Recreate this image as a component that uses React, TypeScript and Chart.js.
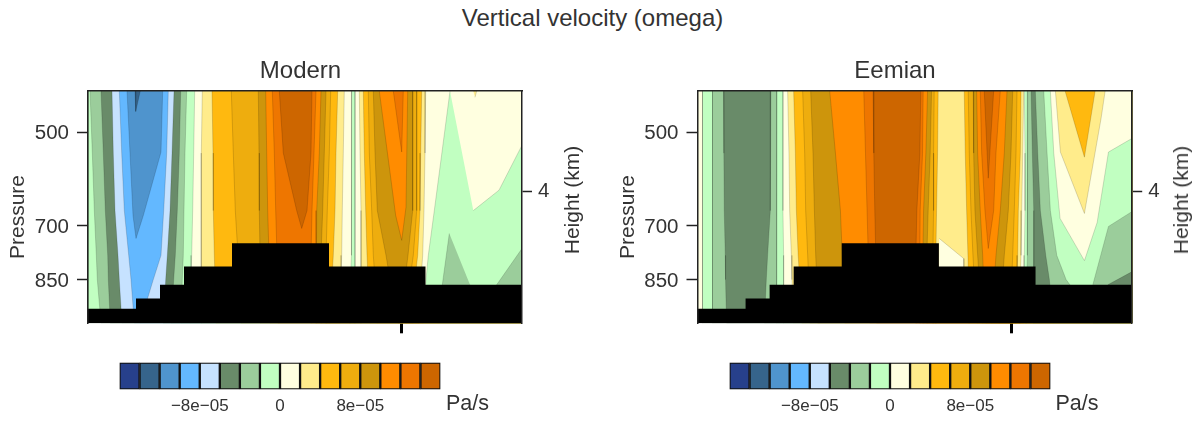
import React, { useEffect, useRef } from "react";
import { Chart, registerables } from "chart.js";

Chart.register(...registerables);

const FONT = "'Liberation Sans', Arial, sans-serif";
const INK = "#333333";

const suptitle = "Vertical velocity (omega)";
const panelTitles = ["Modern", "Eemian"];
const pressureTicks = [500, 700, 850];
const heightTickPressure = [618];
const heightTickLabels = ["4"];
const distanceTick = [313];
const distanceMax = 434;
const pressureTop = 431;
const pressureBottom = 995;

const colours = [
  "#27408B", "#36648B", "#4F94CD", "#63B8FF", "#C6E2FF", "#698B69", "#9BCD9B", "#C1FFC1",
  "#FFFFE0", "#FFEC8B", "#FFB90F", "#EEAD0E", "#CD950C", "#FF8C00", "#EE7600", "#CD6600",
];
const colourLevels = [
  -16e-5, -14e-5, -12e-5, -10e-5, -8e-5, -6e-5, -4e-5, -2e-5, 0,
  2e-5, 4e-5, 6e-5, 8e-5, 10e-5, 12e-5, 14e-5, 16e-5,
];
const colourTicks = [-8e-5, 0, 8e-5];
const colourTickLabels = ["\u22128e\u221205", "0", "8e\u221205"];

// each boundary: colour index to its right, then distance at each of these pressures
const boundaryPressures = [431, 539, 663, 779, 850, 995];

const modernBoundaries: number[][] = [
  [7, 0, 0, 0, 0, 0, 0],
  [6, 2, 4.3, 6.3, 8.3, 9.3, 13],
  [5, 13, 15.3, 17.3, 19.7, 20.3, 22.3],
  [4, 24, 25.3, 27, 30, 31.3, 34],
  [3, 31.3, 33.7, 36.3, 40.7, 43, 46.3],
  [4, 80.3, 78.7, 75.7, 73, 65.3, 52],
  [5, 86, 84, 82, 79.3, 77.7, 75.3],
  [6, 92.7, 91.3, 89.3, 87.3, 85.7, 83.3],
  [7, 98.7, 97, 96, 95.3, 94.3, 93],
  [8, 106.7, 105.7, 104.7, 103.7, 103, 102],
  [9, 114.3, 113.3, 113.3, 113.3, 113.3, 113],
  [10, 124, 125, 125.3, 126.3, 127, 128],
  [11, 143.3, 145.3, 147.3, 150, 151, 153],
  [12, 170.3, 171, 171.3, 172, 172, 172.5],
  [13, 177.7, 178.7, 179.7, 181, 181, 182],
  [14, 184.3, 186.3, 187.7, 189, 189, 190],
  [13, 228, 226, 224, 223, 223, 223],
  [12, 233, 231.3, 228.7, 228, 228, 228],
  [11, 238, 236.3, 234.7, 233, 233, 233],
  [10, 242.7, 241.3, 239.3, 238, 238, 238],
  [9, 249.7, 248, 247, 245.3, 244, 242],
  [8, 256.3, 255.3, 254.3, 253.7, 253, 252],
  [7, 263.7, 263.7, 263.7, 263, 262.5, 262],
  [8, 267, 267, 267, 267, 267, 267],
  [9, 271.3, 272, 273, 273, 273, 273],
  [10, 275.3, 276.3, 277.7, 279, 280, 282],
  [11, 280.3, 281.3, 283.7, 285.3, 287, 289],
  [12, 285.3, 287, 289.3, 298, 302, 310],
  [11, 324.7, 324.7, 324.7, 320, 317, 314],
  [10, 328.7, 328.7, 328.7, 325.3, 322, 318],
  [9, 333.7, 332.7, 332, 329.7, 327, 325],
  [8, 337.7, 337, 336, 334.7, 333, 331],
];

// closed shapes: colour index, then [distance, pressure] corners
const modernShapes: [number, number[][]][] = [
  [2, [[39, 431], [45, 675], [48, 733], [55.3, 675], [73, 537], [74.7, 431]]],
  [1, [[47, 431], [47.7, 464], [52.3, 431]]],
  [15, [[191.3, 431], [195.3, 539], [208.7, 663], [213.7, 707], [219, 663], [223, 539], [224, 431]]],
  [13, [[291.3, 431], [307.7, 675], [313.7, 738], [318, 655], [319.7, 431]]],
  [14, [[305.3, 431], [313.7, 537], [315.3, 431]]],
  [7, [[362, 431], [346.3, 663], [340.3, 779], [338, 850], [335, 995], [434, 995], [434, 524], [411, 616], [385.3, 663]]],
  [6, [[361.3, 720], [354.3, 866], [350, 995], [395, 995], [382, 866]]],
  [6, [[434, 760], [408.7, 866], [400, 995], [434, 995]]],
  [9, [[385.3, 431], [388.7, 431], [387, 441]]],
];

const eemianBoundaries: number[][] = [
  [8, 0, 0, 0, 0, 0, 0],
  [7, 5, 5, 5, 5, 5, 5],
  [6, 15, 15, 15, 15, 15, 15],
  [5, 26, 26.3, 26.7, 27.7, 28, 29],
  [6, 73.3, 72.7, 72.7, 70, 68.7, 66.7],
  [7, 79.3, 79.3, 79.3, 79, 78.7, 78.7],
  [8, 85.3, 85.3, 85.3, 86, 86, 86],
  [9, 90, 91.3, 92, 93.7, 94.3, 96],
  [10, 96, 97.7, 98.7, 100.5, 102, 104],
  [11, 105, 107, 108, 110, 111, 112],
  [12, 113, 115.3, 116.7, 118, 119, 120],
  [13, 132, 137.7, 142.7, 144.5, 145.5, 147],
  [14, 166, 167.7, 169.3, 170.5, 171, 172],
  [15, 175.3, 176, 177, 178, 178.5, 179],
  [14, 223, 222, 219, 218, 218, 218],
  [13, 225.3, 224.7, 222.3, 222, 222, 222],
  [12, 229.7, 228, 225.7, 225, 225, 225],
  [11, 233.7, 232.3, 230.3, 229, 229, 229],
  [10, 236.3, 235.7, 235.7, 235, 235, 235],
  [9, 240.3, 239.7, 238.7, 238, 238, 238],
  [10, 266.3, 267.3, 268.7, 270, 270.5, 271],
  [11, 270.3, 271.3, 273, 275, 276.3, 279],
  [12, 275.3, 275.7, 277, 279.7, 281.3, 284],
  [13, 278.7, 279.7, 282.3, 284.7, 285.7, 288],
  [12, 309, 306.3, 302.3, 298, 296.3, 293],
  [11, 314.7, 313, 310.3, 306.3, 304.7, 301],
  [10, 319, 318, 316.3, 314.7, 313.7, 312],
  [9, 323, 322.3, 320.3, 319.7, 319, 318],
  [8, 325.7, 324.7, 323.7, 323, 322.3, 322],
  [7, 326.3, 327, 327, 326.3, 326, 325.5],
  [6, 329.7, 329.7, 329.3, 329, 328.7, 328],
  [5, 333, 334.3, 335.7, 335.7, 335.7, 335.7],
  [6, 337.3, 339.7, 342.3, 347.7, 351.3, 355],
  [7, 345.7, 349, 352.3, 358.7, 368, 400],
];

const eemianShapes: [number, number[][]][] = [
  [8, [[241.3, 733], [265.7, 788], [266, 850], [241, 850]]],
  [14, [[282.3, 431], [283.7, 539], [287, 663], [290.3, 760], [295.7, 663], [298, 539], [302.3, 431]]],
  [15, [[286.3, 431], [290.3, 590], [295.7, 431]]],
  [8, [[352.3, 431], [355.7, 539], [362, 682], [386.3, 794], [399, 692], [410.3, 537], [434, 511], [434, 431]]],
  [9, [[357.3, 431], [362.3, 537], [386.3, 670], [403, 475], [407, 431]]],
  [10, [[367, 431], [386.3, 547], [397, 431]]],
  [6, [[394.7, 866], [410.3, 702], [434, 665], [434, 995], [385, 995]]],
  [5, [[409.7, 866], [434, 826], [434, 995], [395, 995]]],
];

// ground steps: distance where each step ends, and its surface pressure
const terrainEnds = [48, 72, 96, 144, 241, 337.5, 434];
const terrainPressures = [944, 910, 866, 811, 746, 811, 866];

const shapeDataset = (colour: string, data: { x: number; y: number }[], line = "rgba(0,0,0,0.3)") => ({
  type: "line" as const,
  data,
  backgroundColor: colour,
  borderColor: line,
  borderWidth: line === "transparent" ? 0 : 0.5,
  pointRadius: 0,
  fill: "shape",
  tension: 0,
  parsing: true,
});

function buildDatasets(boundaries: number[][], shapes: [number, number[][]][]) {
  const painted: any[] = [];
  boundaries.forEach(([c, ...xs]) => {
    const pts = xs.map((x, i) => ({ x, y: boundaryPressures[i] }));
    pts.push({ x: distanceMax, y: pressureBottom }, { x: distanceMax, y: pressureTop });
    painted.push(shapeDataset(colours[c], pts));
  });
  shapes.forEach(([c, corners]) => {
    painted.push(shapeDataset(colours[c], corners.map(([x, y]) => ({ x, y }))));
  });
  const ground: { x: number; y: number }[] = [{ x: 0, y: pressureBottom }];
  let from = 0;
  terrainEnds.forEach((end, i) => {
    ground.push({ x: from, y: terrainPressures[i] }, { x: end, y: terrainPressures[i] });
    from = end;
  });
  ground.push({ x: distanceMax, y: pressureBottom });
  painted.push(shapeDataset("#000000", ground, "transparent"));
  return painted.reverse();
}

const fitWidth = (w: number) => (s: any) => { s.width = w; s.paddingTop = 0; s.paddingBottom = 0; };
const fitHeight = (h: number) => (s: any) => { s.height = h; s.paddingLeft = 0; s.paddingRight = 0; };
const setTicks = (vals: number[]) => (s: any) => { s.ticks = vals.map((value) => ({ value })); };

function contourChart(canvas: HTMLCanvasElement, title: string, b: number[][], sh: [number, number[][]][], leftW: number, rightW: number) {
  const axisFont = { family: FONT, size: 20.5 };
  const frame = { display: true, color: "#222222", width: 1.5, z: 1 };
  return new Chart(canvas, {
    type: "line",
    data: { datasets: buildDatasets(b, sh) },
    options: {
      responsive: false,
      animation: false,
      events: [],
      layout: { padding: 0 },
      plugins: {
        legend: { display: false },
        tooltip: { enabled: false },
        title: {
          display: true,
          text: title,
          color: INK,
          font: { family: FONT, size: 24, weight: "normal" },
          padding: { top: 17, bottom: 5.2 },
        },
      },
      scales: {
        x: {
          type: "linear", min: 0, max: distanceMax, position: "bottom",
          afterBuildTicks: setTicks(distanceTick), afterFit: fitHeight(16.7),
          border: { display: false },
          grid: { display: true, drawOnChartArea: false, drawTicks: true, tickLength: 10, tickWidth: 3, tickColor: "#000" },
          ticks: { callback: () => "", autoSkip: false, maxRotation: 0 },
        },
        top: {
          type: "linear", min: 0, max: distanceMax, position: "top",
          afterFit: fitHeight(0), border: frame,
          grid: { display: false }, ticks: { display: false },
        },
        y: {
          type: "logarithmic", min: pressureTop, max: pressureBottom, reverse: true, position: "left",
          afterBuildTicks: setTicks(pressureTicks), afterFit: fitWidth(leftW), border: frame,
          grid: { display: true, drawOnChartArea: false, drawTicks: true, tickLength: 11, tickWidth: 1.5, tickColor: "#222222" },
          ticks: { callback: (v: any) => String(v), autoSkip: false, maxRotation: 0, minRotation: 0, color: INK, font: axisFont, padding: 8, labelOffset: 1.5 },
        },
        y2: {
          type: "logarithmic", min: pressureTop, max: pressureBottom, reverse: true, position: "right",
          afterBuildTicks: setTicks(heightTickPressure), afterFit: fitWidth(rightW), border: frame,
          grid: { display: true, drawOnChartArea: false, drawTicks: true, tickLength: 10, tickWidth: 1.5, tickColor: "#222222" },
          ticks: { callback: () => heightTickLabels[0], autoSkip: false, maxRotation: 0, minRotation: 0, color: INK, font: axisFont, padding: 6 },
        },
      },
    } as any,
  });
}

function colourbarChart(canvas: HTMLCanvasElement) {
  return new Chart(canvas, {
    type: "bar",
    data: {
      labels: [""],
      datasets: colours.map((c, i) => ({
        data: [[colourLevels[i], colourLevels[i + 1]]],
        backgroundColor: c,
        borderColor: "#111111",
        borderWidth: 1.5,
        borderSkipped: false,
        grouped: false,
        barPercentage: 1,
        categoryPercentage: 1,
      })),
    } as any,
    options: {
      indexAxis: "y",
      responsive: false,
      animation: false,
      events: [],
      layout: { padding: { left: 19.5, right: 19.5, top: 2.5, bottom: 0 } },
      plugins: { legend: { display: false }, tooltip: { enabled: false }, title: { display: false } },
      scales: {
        x: {
          type: "linear", min: colourLevels[0], max: colourLevels[16],
          afterBuildTicks: setTicks(colourTicks), afterFit: fitHeight(30.5),
          border: { display: false }, grid: { display: false },
          ticks: {
            callback: (v: any) => colourTickLabels[colourTicks.findIndex((t) => Math.abs(t - v) < 1e-7)],
            autoSkip: false, maxRotation: 0, color: INK, font: { family: FONT, size: 17 }, padding: -1,
          },
        },
        y: { type: "category", display: false },
      },
    } as any,
  });
}

const label = (text: string, x: number, y: number, size: number, rotate = false): React.CSSProperties => ({
  position: "absolute", left: x, top: y, fontFamily: FONT, fontSize: size, color: INK, whiteSpace: "nowrap",
  transform: `translate(-50%,-50%)${rotate ? " rotate(-90deg)" : ""}`,
});

export default function App() {
  const a = useRef<HTMLCanvasElement>(null);
  const b = useRef<HTMLCanvasElement>(null);
  const c = useRef<HTMLCanvasElement>(null);
  const d = useRef<HTMLCanvasElement>(null);
  useEffect(() => {
    const charts = [
      contourChart(a.current!, panelTitles[0], modernBoundaries, modernShapes, 88, 79),
      contourChart(b.current!, panelTitles[1], eemianBoundaries, eemianShapes, 101.5, 61.8),
      colourbarChart(c.current!),
      colourbarChart(d.current!),
    ];
    return () => charts.forEach((ch) => ch.destroy());
  }, []);
  const cv = (l: number, t: number): React.CSSProperties => ({ position: "absolute", left: l, top: t, display: "block" });
  return (
    <div style={{ position: "absolute", left: 0, top: 0, width: 1196, height: 422, overflow: "hidden", background: "#fff" }}>
      <span style={label(suptitle, 592.5, 18, 24)}>{suptitle}</span>
      <canvas ref={a} width={601} height={300} style={cv(0, 40)} />
      <canvas ref={b} width={598} height={300} style={cv(595.5, 40)} />
      <canvas ref={c} width={360} height={60} style={cv(100, 360)} />
      <canvas ref={d} width={360} height={60} style={cv(710, 360)} />
      <span style={label("Pressure", 17, 216.5, 21, true)}>Pressure</span>
      <span style={label("Pressure", 627, 216.5, 21, true)}>Pressure</span>
      <span style={label("Height (km)", 571.5, 200, 21, true)}>Height (km)</span>
      <span style={label("Height (km)", 1180.5, 200, 21, true)}>Height (km)</span>
      <span style={label("Pa/s", 467.5, 403, 21.5)}>Pa/s</span>
      <span style={label("Pa/s", 1077, 403, 21.5)}>Pa/s</span>
    </div>
  );
}
